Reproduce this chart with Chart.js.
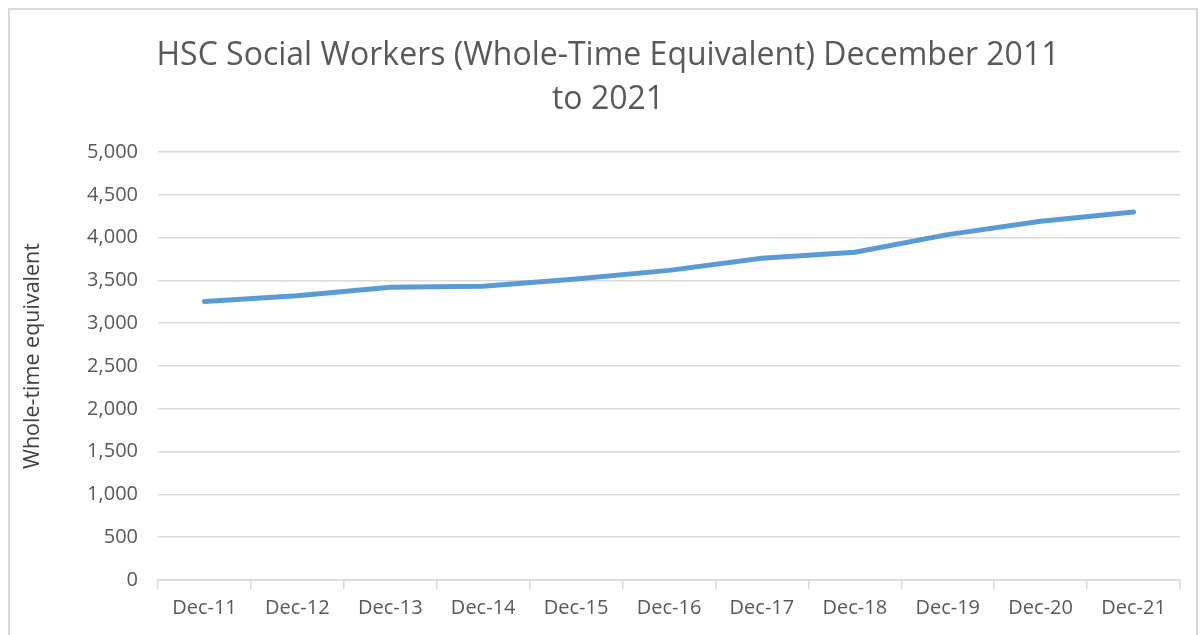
<!DOCTYPE html>
<html>
<head>
<meta charset="utf-8">
<script src="https://cdn.jsdelivr.net/npm/chart.js@4"></script>
<style>
  body { margin: 0; background: #fff; }
  #wrap { position: relative; width: 1203px; height: 635px; }
  #frame { position: absolute; left: 8px; top: 8px; width: 1190px; height: 640px;
           border: 2px solid #d9d9d9; box-sizing: border-box; pointer-events: none; }
</style>
</head>
<body>
<div id="wrap">
  <canvas id="wteChart" width="1203" height="635"></canvas>
  <div id="frame"></div>
</div>
<script>
var labels = ['Dec-11', 'Dec-12', 'Dec-13', 'Dec-14', 'Dec-15', 'Dec-16',
              'Dec-17', 'Dec-18', 'Dec-19', 'Dec-20', 'Dec-21'];
var wte = [3253, 3320, 3420, 3433, 3515, 3617, 3758, 3828, 4035, 4190, 4300];
var titleLines = ['HSC Social Workers (Whole-Time Equivalent) December 2011', 'to 2021'];
var yTitle = 'Whole-time equivalent';

var FONT = '"Open Sans", Lato, sans-serif';
var grey = '#d9d9d9';

// titles drawn by hand so they sit where the original puts them
var pageTitle = {
  id: 'pageTitle',
  afterDraw: function (chart) {
    var c = chart.ctx;
    c.save();
    c.fillStyle = '#595959';
    c.font = '32px ' + FONT;
    c.textAlign = 'center';
    c.textBaseline = 'alphabetic';
    c.fillText(titleLines[0], 608, 65);
    c.fillText(titleLines[1], 608, 109);

    c.fillStyle = '#404040';
    c.font = '21.5px ' + FONT;
    c.textBaseline = 'middle';
    c.translate(33, 356);
    c.rotate(-Math.PI / 2);
    c.fillText(yTitle, 0, 0);
    c.restore();
  }
};

var ctx = document.getElementById('wteChart');
var chart = new Chart(ctx, {
  type: 'line',
  data: {
    labels: labels,
    datasets: [{
      label: 'WTE',
      data: wte,
      borderColor: '#5b9bd5',
      backgroundColor: '#5b9bd5',
      borderWidth: 5,
      borderCapStyle: 'round',
      borderJoinStyle: 'round',
      tension: 0,
      pointRadius: 0,
      fill: false
    }]
  },
  options: {
    responsive: false,
    animation: false,
    layout: { padding: { left: 0, right: 23, top: 152, bottom: 0 } },
    plugins: {
      legend: { display: false },
      tooltip: { enabled: false },
      title: { display: false }
    },
    scales: {
      x: {
        offset: true,
        grid: { offset: true, drawOnChartArea: false, color: grey, tickLength: 9, lineWidth: 1.5 },
        border: { color: grey, width: 1.5 },
        ticks: { color: '#595959', font: { family: FONT, size: 20 }, padding: 7, maxRotation: 0 },
        afterFit: function (s) { s.height = 55; }
      },
      y: {
        min: 0,
        max: 5000,
        ticks: {
          stepSize: 500,
          color: '#595959',
          font: { family: FONT, size: 20 },
          padding: 20,
          callback: function (v) { return v.toLocaleString('en-US'); }
        },
        grid: { color: grey, lineWidth: 1.5, drawTicks: false },
        border: { display: false },
        afterFit: function (s) { s.width = 158; }
      }
    }
  },
  plugins: [pageTitle]
});
</script>
</body>
</html>
